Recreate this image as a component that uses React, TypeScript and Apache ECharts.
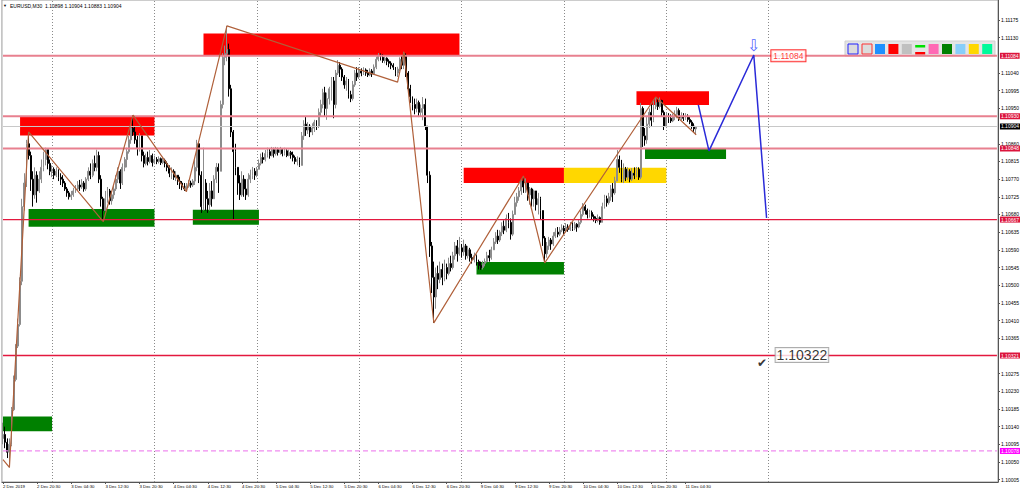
import React, { useEffect, useRef } from "react";
import * as echarts from "echarts";

// ---- data (prices in points above 1.10000, i.e. 904 -> 1.10904) ----
const BASE = 1.1;
const OPEN_FIRST = 110;
const CLOSE = [
  120, 100, 75, 95, 183, 260, 345, 400, 510, 700,
  760, 860, 830, 770, 730, 780, 740, 770, 800, 820,
  845, 810, 790, 795, 780, 790, 775, 770, 760, 745,
  735, 725, 730, 740, 745, 755, 750, 760, 745, 770,
  790, 780, 810, 800, 830, 770, 720, 690, 720, 740,
  715, 730, 745, 770, 790, 760, 800, 820, 840, 870,
  900, 890, 870, 850, 880, 830, 810, 825, 815, 830,
  812, 820, 815, 822, 812, 818, 810, 800, 785, 790,
  775, 780, 765, 760, 750, 745, 752, 760, 755, 765,
  800, 860, 780, 700, 760, 720, 705, 740, 720, 770,
  800, 790, 960, 1080, 1090, 1100, 1000, 890, 840, 800,
  760, 730, 770, 745, 730, 770, 780, 790, 780, 795,
  810, 825, 820, 835, 840, 830, 845, 835, 845, 838,
  845, 835, 842, 830, 838, 832, 825, 815, 820, 805,
  880, 910, 895, 905, 890, 900, 915, 905, 940, 960,
  990, 950, 975, 1000, 1020, 960, 1040, 1060, 1050, 1030,
  1010, 1020, 985, 975, 1010, 1040, 1030, 1045, 1040, 1048,
  1040, 1035, 1045, 1038, 1055, 1075, 1085, 1080, 1072, 1078,
  1070, 1065, 1060, 1055, 1040, 1050, 1075, 1060, 1085, 1040,
  1000, 980, 960, 950, 965, 940, 950, 960, 905, 780,
  600, 520, 470, 530, 515, 540, 520, 545, 530, 555,
  545, 575, 600, 580, 595, 585, 600, 575, 590, 570,
  565, 575, 560, 550, 545, 555, 560, 575, 570, 590,
  610, 625, 615, 635, 650, 640, 670, 660, 630, 680,
  710, 725, 740, 765, 750, 760, 730, 745, 720, 740,
  705, 720, 690, 620, 580, 600, 615, 605, 625, 635,
  630, 640, 645, 638, 648, 642, 650, 645, 655, 648,
  660, 680, 700, 690, 680, 685, 675, 670, 665, 672,
  660, 700, 720, 710, 725, 745, 735, 765, 820, 800,
  770, 795, 775, 790, 770, 785, 780, 795, 775, 950,
  880, 870, 910, 940, 920, 955, 965, 955, 970, 940,
  905, 930, 925, 918, 930, 935, 945, 925, 930, 925,
  930, 922, 915, 905, 898, 904,
];
const HIGH = [
  150, 140, 110, 110, 190, 270, 350, 415, 520, 720,
  785, 870, 890, 840, 790, 800, 790, 790, 820, 840,
  850, 845, 820, 805, 800, 800, 795, 785, 780, 765,
  750, 740, 740, 748, 755, 765, 768, 770, 765, 775,
  800, 810, 820, 830, 845, 840, 780, 725, 740, 750,
  745, 740, 755, 780, 800, 795, 810, 826, 850, 880,
  910, 933, 905, 880, 887, 875, 840, 835, 840, 844,
  835, 830, 826, 828, 825, 826, 822, 815, 805, 800,
  795, 790, 780, 776, 765, 760, 760, 768, 766, 770,
  820, 870, 865, 790, 850, 770, 740, 760, 765, 780,
  811, 810, 970, 1091, 1110, 1160, 1115, 1010, 895, 860,
  800, 780, 790, 780, 770, 785, 794, 801, 798, 801,
  820, 835, 838, 844, 850, 848, 852, 850, 852, 850,
  852, 848, 850, 846, 845, 842, 840, 830, 828, 825,
  890, 920, 928, 915, 910, 912, 921, 920, 950, 972,
  1000, 1005, 990, 1005, 1030, 1030, 1048, 1073, 1068, 1055,
  1035, 1030, 1025, 995, 1020, 1048, 1055, 1055, 1052, 1055,
  1052, 1048, 1052, 1050, 1062, 1082, 1091, 1090, 1088, 1082,
  1080, 1075, 1070, 1065, 1055, 1056, 1080, 1085, 1094, 1090,
  1045, 1010, 979, 975, 975, 970, 960, 979, 975, 905,
  790, 610, 560, 545, 550, 560, 555, 565, 555, 570,
  575, 585, 610, 615, 623, 605, 616, 605, 600, 595,
  580, 583, 578, 565, 560, 562, 568, 585, 590, 598,
  620, 635, 641, 640, 660, 665, 680, 684, 670, 690,
  725, 735, 750, 770, 778, 772, 760, 750, 748, 743,
  740, 735, 725, 690, 625, 610, 623, 620, 635, 645,
  648, 648, 655, 652, 658, 655, 661, 660, 661, 658,
  668, 690, 709, 705, 695, 692, 690, 680, 675, 680,
  675, 710, 730, 728, 735, 755, 760, 776, 844, 830,
  819, 810, 801, 800, 795, 798, 800, 801, 800, 964,
  955, 900, 928, 950, 960, 972, 979, 975, 978, 972,
  945, 940, 938, 935, 936, 945, 954, 950, 940, 938,
  938, 935, 928, 920, 912, 904,
];
const LOW = [
  95, 85, 60, 36, 90, 180, 255, 340, 395, 500,
  690, 750, 820, 740, 700, 720, 710, 735, 760, 790,
  805, 795, 780, 775, 770, 775, 765, 755, 750, 740,
  725, 718, 717, 725, 735, 740, 740, 745, 738, 740,
  765, 770, 775, 790, 790, 760, 700, 662, 690, 710,
  705, 705, 720, 740, 760, 745, 755, 790, 800, 835,
  860, 880, 860, 830, 840, 815, 800, 805, 805, 810,
  802, 808, 808, 810, 806, 808, 800, 790, 775, 770,
  768, 765, 755, 745, 742, 740, 738, 748, 748, 750,
  755, 790, 760, 684, 690, 690, 684, 690, 700, 720,
  760, 735, 790, 950, 1060, 1070, 980, 877, 666, 780,
  730, 717, 725, 725, 717, 725, 760, 770, 768, 775,
  795, 805, 810, 815, 825, 822, 828, 825, 830, 830,
  832, 828, 830, 826, 828, 822, 815, 808, 805, 801,
  805, 870, 880, 885, 877, 882, 890, 895, 900, 930,
  950, 930, 921, 960, 970, 925, 950, 1035, 1030, 1020,
  1000, 995, 975, 966, 970, 1005, 1020, 1025, 1032, 1035,
  1033, 1030, 1032, 1030, 1035, 1050, 1070, 1072, 1066, 1065,
  1060, 1055, 1050, 1048, 1032, 1030, 1045, 1050, 1050, 1030,
  990, 964, 945, 935, 940, 928, 930, 920, 895, 760,
  572, 480, 404, 440, 490, 505, 500, 510, 515, 525,
  535, 540, 565, 560, 575, 570, 575, 565, 568, 560,
  555, 558, 550, 540, 539, 540, 548, 558, 560, 565,
  590, 605, 605, 610, 625, 630, 635, 645, 616, 625,
  695, 700, 715, 730, 735, 735, 715, 705, 700, 700,
  690, 680, 666, 600, 557, 570, 590, 590, 600, 620,
  622, 625, 635, 630, 635, 636, 638, 638, 640, 636,
  645, 655, 675, 680, 670, 672, 668, 662, 658, 660,
  654, 660, 695, 700, 705, 715, 712, 730, 765, 786,
  762, 760, 765, 768, 762, 765, 770, 775, 768, 770,
  852, 855, 860, 900, 905, 915, 948, 946, 950, 930,
  895, 900, 913, 913, 915, 920, 925, 918, 920, 918,
  921, 916, 910, 898, 890, 883,
];

const TIME_LABELS = [
  "2 Dec 2019", "2 Dec 20:30", "3 Dec 04:30", "3 Dec 12:30", "3 Dec 20:30",
  "4 Dec 04:30", "4 Dec 12:30", "4 Dec 20:30", "5 Dec 04:30", "5 Dec 12:30",
  "5 Dec 20:30", "6 Dec 04:30", "6 Dec 12:30", "6 Dec 20:30", "9 Dec 04:30",
  "9 Dec 12:30", "9 Dec 20:30", "10 Dec 04:30", "10 Dec 12:30", "10 Dec 20:30",
  "11 Dec 04:30",
];
const PRICE_TICKS = [
  1.10005, 1.1005, 1.10095, 1.1014, 1.10185, 1.1023, 1.10275, 1.10365, 1.1041,
  1.10455, 1.105, 1.10545, 1.1059, 1.10635, 1.1068, 1.10725, 1.1077, 1.10815,
  1.1086, 1.1095, 1.10995, 1.1104, 1.1113, 1.11175,
];
const ZIGZAG = [
  [0, 56], [3, 36], [12, 890], [47, 662], [61, 933], [86, 738], [105, 1160],
  [185, 1017], [188, 1094], [202, 404], [244, 778], [254, 557], [306, 979], [325, 883],
];
const PROJECTION = [[326, 959], [331, 842], [352, 1086], [358, 671]];
const LEVEL_VALUES = [1084, 930, 904, 848, 667, 321, 78];
const LEVEL_KINDS = ["zone", "zone", "price", "zone", "key", "key", "low"];
const RED_ZONES = [[8, 71, 928, 881], [94, 214, 1141, 1084], [216, 263, 799, 760], [297, 331, 994, 959]];
const GREEN_ZONES = [[12, 71, 694, 649], [89, 120, 692, 654], [0, 23, 166, 128], [222, 263, 559, 527], [301, 339, 849, 821]];
const YELLOW_ZONES = [[263, 311, 799, 760]];
const GRID_BARS = [23, 71, 119, 167, 215, 263, 311, 359];
const N_SLOTS = 467;
const TITLE = "EURUSD,M30  1.10898 1.10904 1.10883 1.10904";

const px = (p: number) => +(BASE + p / 100000).toFixed(5);
const FONT = "Liberation Sans, Arial, sans-serif";

const LEVEL_STYLE: Record<string, any> = {
  zone: { line: { color: "#e8808f", width: 2, type: "solid" }, bg: "#dc143c" },
  price: { line: { color: "#c8c8c8", width: 1, type: "solid" }, bg: "#000000" },
  key: { line: { color: "#e3183f", width: 1.3, type: "solid" }, bg: "#dc143c" },
  low: { line: { color: "#f08cf0", width: 1.2, type: [5, 3] }, bg: "#ff00ff" },
};

export default function App() {
  const ref = useRef<HTMLDivElement>(null);
  useEffect(() => {
    document.body.style.margin = "0";
    const chart = echarts.init(ref.current!, null, { renderer: "svg" });
    const cats = Array.from({ length: N_SLOTS }, (_, i) => String(i));
    const ohlc = CLOSE.map((c, i) => {
      const o = i === 0 ? OPEN_FIRST : CLOSE[i - 1];
      return [px(o), px(c), px(Math.min(LOW[i], o, c)), px(Math.max(HIGH[i], o, c))];
    });
    const zone = (z: number[], color: string) => [
      { xAxis: z[0], yAxis: px(z[2]), itemStyle: { color } },
      { xAxis: z[1], yAxis: px(z[3]) },
    ];
    const showTick = (i: number) => i % 16 === 0 && i / 16 < TIME_LABELS.length;
    const toolbarColors = ["#1e90ff", "#ff0000", "#c0c0c0", "STRIPE", "#ff69b4", "#008000", "#87cefa", "#ffd700", "#00fa9a"];
    const toolbar: any[] = [
      { type: "rect", shape: { x: 845, y: 41, width: 150, height: 15 }, style: { fill: "#e4e4e4", stroke: "#cfcfcf" } },
      { type: "rect", shape: { x: 848, y: 44, width: 10, height: 10 }, style: { fill: "#dcdcdc", stroke: "#2020ff", lineWidth: 1 } },
      { type: "rect", shape: { x: 862, y: 44, width: 10, height: 10 }, style: { fill: "#dcdcdc", stroke: "#ff3030", lineWidth: 1 } },
    ];
    toolbarColors.forEach((c, k) => {
      const x = 875 + k * 13.4;
      if (c === "STRIPE") {
        toolbar.push({ type: "rect", shape: { x, y: 45, width: 10, height: 2.5 }, style: { fill: "#00e000" } });
        toolbar.push({ type: "rect", shape: { x, y: 52, width: 10, height: 2.5 }, style: { fill: "#ff0000" } });
      } else {
        toolbar.push({ type: "rect", shape: { x, y: 44, width: 10, height: 10 }, style: { fill: c } });
      }
    });

    const levelSeries = LEVEL_VALUES.map((v, k) => {
      const st = LEVEL_STYLE[LEVEL_KINDS[k]];
      const p = px(v);
      return {
        type: "line",
        data: [[0, p], [N_SLOTS - 1, p]],
        z: 3,
        silent: true,
        symbol: "none",
        color: st.line.color,
        lineStyle: st.line,
        endLabel: {
          show: true,
          formatter: () => p.toFixed(5),
          distance: 3,
          color: "#fff",
          backgroundColor: st.bg,
          fontSize: 5,
          fontFamily: FONT,
          padding: [1, 1, 0, 1],
        },
      };
    });

    chart.setOption({
      animation: false,
      backgroundColor: "#ffffff",
      grid: { left: 0, top: 0, width: 998, height: 482, show: true, borderColor: "#9a9a9a", borderWidth: 1 },
      xAxis: {
        type: "category",
        data: cats,
        boundaryGap: true,
        axisLine: { show: true, lineStyle: { color: "#555" } },
        axisTick: { show: true, alignWithLabel: true, interval: (i: number) => showTick(i), length: 2, lineStyle: { color: "#555" } },
        axisLabel: {
          interval: (i: number) => showTick(i),
          formatter: (v: string) => TIME_LABELS[Number(v) / 16] ?? "",
          align: "left",
          fontSize: 4.3,
          margin: 2,
          color: "#000",
          fontFamily: FONT,
        },
        splitLine: { show: false },
      },
      yAxis: {
        type: "value",
        position: "right",
        min: 1.09999,
        max: 1.11226,
        splitLine: { show: false },
        axisLine: { show: true, lineStyle: { color: "#555" } },
        axisTick: { show: true, length: 2, customValues: PRICE_TICKS, lineStyle: { color: "#555" } },
        axisLabel: {
          customValues: PRICE_TICKS,
          formatter: (v: number) => v.toFixed(5),
          fontSize: 5,
          margin: 3,
          color: "#000",
          fontFamily: FONT,
        },
      },
      graphic: [
        { type: "text", left: 3, top: 3, style: { text: "▼", fontSize: 4, fill: "#000", fontFamily: FONT } },
        { type: "text", left: 10, top: 3, style: { text: TITLE, fontSize: 5, fill: "#000", fontFamily: FONT } },
        ...toolbar,
      ],
      series: [
        {
          type: "candlestick",
          data: ohlc,
          z: 2,
          silent: true,
          barWidth: 1.4,
          itemStyle: { color: "#8c8c8c", color0: "#000000", borderColor: "#8c8c8c", borderColor0: "#000000", borderWidth: 1 },
          markArea: {
            silent: true,
            z: 1,
            data: [
              ...RED_ZONES.map((z) => zone(z, "#ff0000")),
              ...GREEN_ZONES.map((z) => zone(z, "#008000")),
              ...YELLOW_ZONES.map((z) => zone(z, "#ffd700")),
            ],
          },
          markLine: {
            silent: true,
            z: 0,
            symbol: ["none", "none"],
            label: { show: false },
            lineStyle: { color: "#8a8a8a", type: [1, 2], width: 1 },
            data: GRID_BARS.map((b) => ({ xAxis: b })),
          },
        },
        ...levelSeries,
        {
          type: "line",
          data: ZIGZAG.map(([i, v]) => [i, px(v)]),
          z: 4,
          silent: true,
          symbol: "none",
          lineStyle: { color: "#b0603a", width: 1.2 },
        },
        {
          type: "line",
          data: PROJECTION.map(([i, v]) => [i, px(v)]),
          z: 4,
          silent: true,
          symbol: "none",
          lineStyle: { color: "#2a2ad8", width: 1.5 },
        },
        {
          type: "scatter",
          z: 6,
          silent: true,
          symbolSize: 1,
          itemStyle: { color: "rgba(0,0,0,0)" },
          data: [
            { value: [352, px(1111)], label: { show: true, position: "inside", formatter: "⇩", fontSize: 16, color: "#1f3cff" } },
            { value: [356, px(303)], label: { show: true, position: "inside", formatter: "✔", fontSize: 12, color: "#000" } },
            {
              value: [362, px(322)],
              label: {
                show: true, position: "right", distance: 0, formatter: "1.10322", fontSize: 14, color: "#000",
                fontFamily: FONT, backgroundColor: "#fff", borderColor: "#999", borderWidth: 1, padding: [0, 1],
              },
            },
            {
              value: [360, px(1084)],
              label: {
                show: true, position: "right", distance: 0, formatter: "1.11084", fontSize: 8.5, color: "#ff0000",
                fontFamily: FONT, backgroundColor: "#fff", borderColor: "#ff0000", borderWidth: 1, padding: [1, 2],
              },
            },
          ],
        },
      ],
    });
    return () => chart.dispose();
  }, []);
  return <div ref={ref} style={{ width: 1024, height: 493 }} />;
}
